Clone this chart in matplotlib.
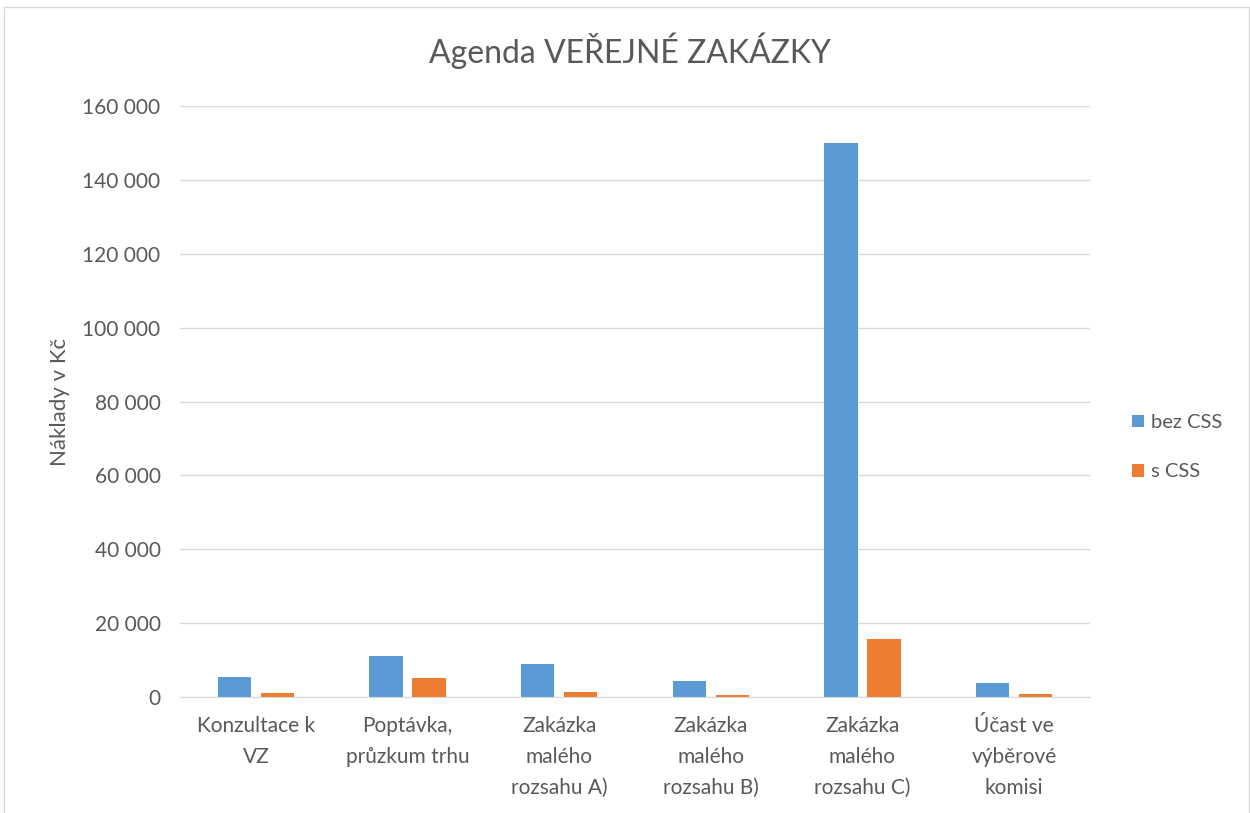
import matplotlib.pyplot as plt
from matplotlib.patches import Rectangle
from matplotlib.ticker import FuncFormatter
import numpy as np

plt.rcParams['font.family'] = ['Lato', 'DejaVu Sans']

categories = ['Konzultace k\nVZ', 'Poptávka,\nprůzkum trhu', 'Zakázka\nmalého\nrozsahu A)',
              'Zakázka\nmalého\nrozsahu B)', 'Zakázka\nmalého\nrozsahu C)', 'Účast ve\nvýběrové\nkomisi']
bez_css = [5400, 11000, 8900, 4400, 150000, 3800]
s_css = [1200, 5100, 1400, 600, 15600, 800]

text_color = '#595959'
grid_color = '#d9d9d9'

fig = plt.figure(figsize=(12.5, 8.13), dpi=100)
ax = fig.add_axes([0.144, 0.1427, 0.728, 0.7269])

x = np.arange(len(categories))
w = 0.22
ax.bar(x - 0.142, bez_css, w, color='#5b9bd5', label='bez CSS')
ax.bar(x + 0.142, s_css, w, color='#ed7d31', label='s CSS')

ax.set_xlim(-0.5, len(categories) - 0.5)
ax.set_ylim(0, 160000)
ax.set_yticks(np.arange(0, 160001, 20000))
ax.yaxis.set_major_formatter(FuncFormatter(lambda v, p: f'{int(v):,}'.replace(',', ' ')))
ax.set_xticks(x)
ax.set_xticklabels(categories, fontsize=15, color=text_color, linespacing=1.68)
ax.tick_params(axis='y', length=0, labelsize=15, labelcolor=text_color, pad=14)
ax.tick_params(axis='x', length=0, pad=14)
ax.grid(axis='y', color=grid_color, linewidth=1)
ax.set_axisbelow(True)
for s in ['top', 'right', 'left']:
    ax.spines[s].set_visible(False)
ax.spines['bottom'].set_color(grid_color)

ax.set_ylabel('Náklady v Kč', fontsize=16, color=text_color, labelpad=9)
fig.text(0.504, 0.938, 'Agenda VEŘEJNÉ ZAKÁZKY', fontsize=23, color=text_color, ha='center', va='center')

fig.legend(loc='center left', bbox_to_anchor=(0.891, 0.45), frameon=False, fontsize=14.5,
           labelcolor=text_color, handlelength=0.6, handleheight=0.6, labelspacing=1.6, handletextpad=0.35)

fig.patches.append(Rectangle((0.003, -0.1), 0.996, 1.091, transform=fig.transFigure,
                             fill=False, edgecolor=grid_color, linewidth=1))

fig.savefig('out.png', dpi=100)
